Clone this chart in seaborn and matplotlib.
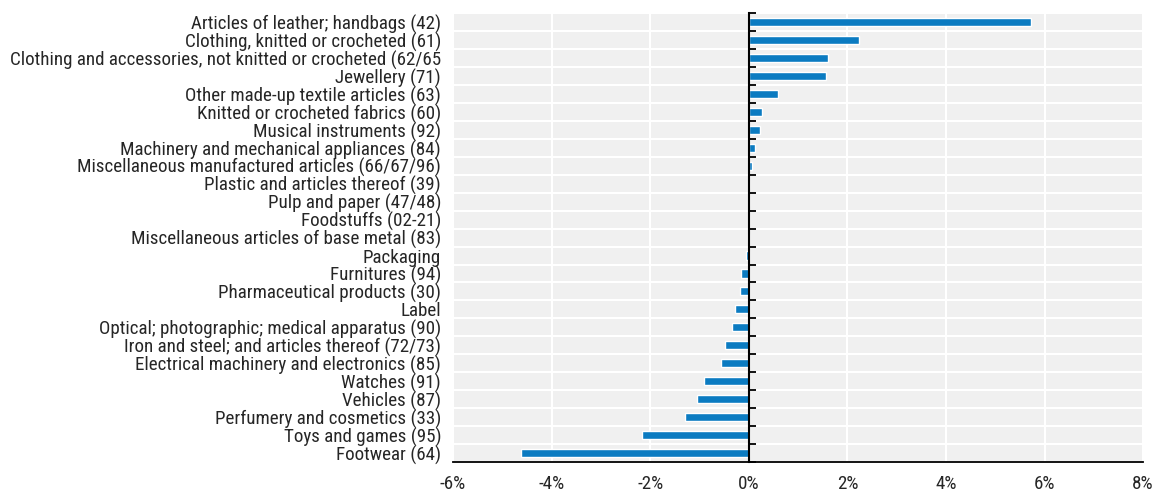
import numpy as np
import pandas as pd
import seaborn as sns
import matplotlib.pyplot as plt

categories = [
    "Articles of leather; handbags (42)",
    "Clothing, knitted or crocheted (61)",
    "Clothing and accessories, not knitted or crocheted (62/65",
    "Jewellery (71)",
    "Other made-up textile articles (63)",
    "Knitted or crocheted fabrics (60)",
    "Musical instruments (92)",
    "Machinery and mechanical appliances (84)",
    "Miscellaneous manufactured articles (66/67/96)",
    "Plastic and articles thereof (39)",
    "Pulp and paper (47/48)",
    "Foodstuffs (02-21)",
    "Miscellaneous articles of base metal (83)",
    "Packaging",
    "Furnitures (94)",
    "Pharmaceutical products (30)",
    "Label",
    "Optical; photographic; medical apparatus (90)",
    "Iron and steel; and articles thereof (72/73)",
    "Electrical machinery and electronics (85)",
    "Watches (91)",
    "Vehicles (87)",
    "Perfumery and cosmetics (33)",
    "Toys and games (95)",
    "Footwear (64)",
]
values = [5.72, 2.23, 1.60, 1.56, 0.59, 0.26, 0.23, 0.12, 0.07, 0.01, 0.01, 0.0,
          -0.02, -0.05, -0.16, -0.18, -0.27, -0.35, -0.49, -0.57, -0.90, -1.06,
          -1.30, -2.17, -4.62]
x_ticks = [-6, -4, -2, 0, 2, 4, 6, 8]

df = pd.DataFrame({"category": categories, "value": values})

sns.set_style("white")
plt.rcParams["font.family"] = ["Roboto Condensed", "Liberation Sans", "DejaVu Sans"]

fig = plt.figure(figsize=(11.6, 4.96), dpi=100)
ax = fig.add_axes([0.3905, 0.0685, 0.595, 0.905])
ax.set_facecolor("#f0f0f0")

sns.barplot(data=df, x="value", y="category", orient="h", color="#0b7bc1",
            width=0.45, saturation=1, ax=ax, zorder=3)

n = len(categories)
ax.set_xlim(-6, 8)
ax.set_ylim(n - 0.5, -0.5)
ax.set_xticks(x_ticks)
ax.set_xticklabels([f"{t}%" for t in x_ticks])
ax.set_yticks(range(n))
ax.set_yticklabels(categories)
ax.set_yticks(np.arange(-0.5, n, 1), minor=True)
ax.set_xlabel("")
ax.set_ylabel("")

# white grid
ax.grid(True, axis="x", which="major", color="white", linewidth=1.5, zorder=1)
ax.grid(True, axis="y", which="minor", color="white", linewidth=1.5, zorder=1)
ax.set_axisbelow(True)

for s in ["left", "top"]:
    ax.spines[s].set_visible(False)
ax.spines["bottom"].set_color("black")
ax.spines["bottom"].set_linewidth(1.3)
# right spine used as the zero axis
ax.spines["right"].set_position(("data", 0))
ax.spines["right"].set_color("black")
ax.spines["right"].set_linewidth(1.5)
ax.spines["right"].set_zorder(4)

ax.yaxis.set_ticks_position("both")
ax.tick_params(axis="y", which="major", left=True, right=False, length=0, pad=8.5,
               labelsize=13.7)
ax.tick_params(axis="y", which="minor", left=False, right=True, labelright=False,
               direction="out", length=5, width=1.3, color="black")
ax.tick_params(axis="x", which="major", direction="in", length=5, width=1.3,
               color="black", pad=9, labelsize=13.7)

fig.savefig("out.png", dpi=100)
